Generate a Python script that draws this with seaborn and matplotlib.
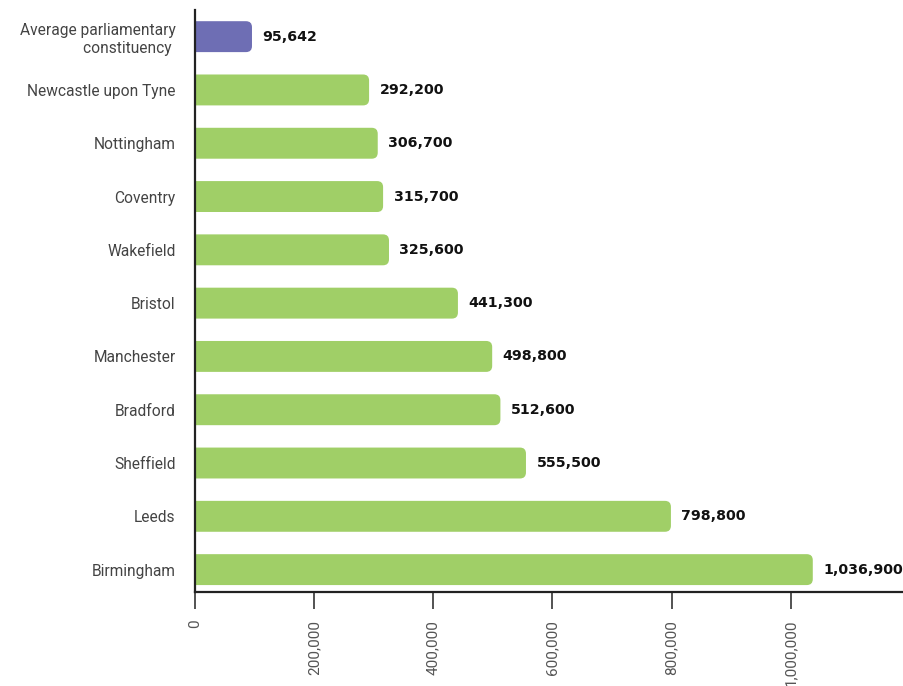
import matplotlib
matplotlib.use("Agg")
import matplotlib.pyplot as plt
from matplotlib.patches import FancyBboxPatch
import seaborn as sns
import pandas as pd

categories = ["Average parliamentary\nconstituency ", "Newcastle upon Tyne", "Nottingham",
              "Coventry", "Wakefield", "Bristol", "Manchester", "Bradford",
              "Sheffield", "Leeds", "Birmingham"]
values = [95642, 292200, 306700, 315700, 325600, 441300, 498800, 512600,
          555500, 798800, 1036900]
labels = ["95,642", "292,200", "306,700", "315,700", "325,600", "441,300",
          "498,800", "512,600", "555,500", "798,800", "1,036,900"]
xticks = [0, 200000, 400000, 600000, 800000, 1000000]
xtick_labels = ["0", "200,000", "400,000", "600,000", "800,000", "1,000,000"]

green = "#a0cf67"
purple = "#6e6eb4"
colors = [purple] + [green] * (len(categories) - 1)

sns.set_theme(style="white")
plt.rcParams["font.family"] = ["Roboto", "DejaVu Sans"]

df = pd.DataFrame({"city": categories, "value": values})

fig = plt.figure(figsize=(9.04, 6.86), dpi=100)
ax = fig.add_axes([195 / 904, (686 - 592) / 686, 1 - 195 / 904, (592 - 10) / 686])

sns.barplot(data=df, x="value", y="city", hue="city", palette=colors,
            legend=False, width=0.58, ax=ax, saturation=1)

xmax = 1190000
ax.set_xlim(0, xmax)
ax.set_ylim(10.42, -0.5)

# replace bars with rounded ones
fig.canvas.draw()
ax_w_px = ax.get_window_extent().width
ax_h_px = ax.get_window_extent().height
x_per_px = xmax / ax_w_px
y_per_px = (10.42 + 0.5) / ax_h_px
r_px = 6
patches = list(ax.patches)
for p in patches:
    x0, y0 = p.get_x(), p.get_y()
    w, h = p.get_width(), p.get_height()
    fc = p.get_facecolor()
    p.remove()
    extra = r_px * 2 * x_per_px
    fb = FancyBboxPatch((x0 - extra, y0), w + extra, h,
                        boxstyle=f"round,pad=0,rounding_size={r_px * x_per_px}",
                        mutation_aspect=y_per_px / x_per_px,
                        facecolor=fc, edgecolor="none", clip_on=True)
    ax.add_patch(fb)

for i, (v, lab) in enumerate(zip(values, labels)):
    ax.annotate(lab, xy=(v, i), xytext=(7.5, 0), textcoords="offset points",
                ha="left", va="center", fontsize=10.2, fontweight="bold",
                color="#111111", family=["DejaVu Sans"], annotation_clip=False)

ax.set_xticks(xticks)
ax.set_xticklabels(xtick_labels, rotation=90, fontsize=11, color="#555555")
ax.tick_params(axis="x", length=12, width=1.3, color="#444444", pad=8, bottom=True)
ax.tick_params(axis="y", length=0, pad=14, labelsize=11.2, labelcolor="#444444")
for t in ax.get_yticklabels():
    t.set_multialignment("right")

ax.set_xlabel("")
ax.set_ylabel("")
for s in ["top", "right"]:
    ax.spines[s].set_visible(False)
for s in ["left", "bottom"]:
    ax.spines[s].set_color("#222222")
    ax.spines[s].set_linewidth(1.6)

fig.savefig("out.png", dpi=100)
